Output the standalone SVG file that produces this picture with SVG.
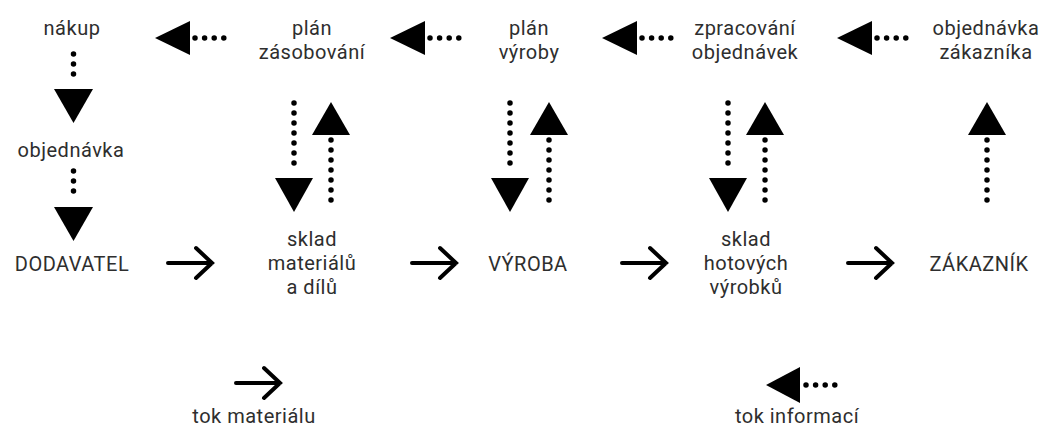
<svg xmlns="http://www.w3.org/2000/svg" width="1046" height="427" viewBox="0 0 1046 427">
<defs>
<style>
text{font-family:Roboto,"Open Sans","Liberation Sans",sans-serif;font-size:20px;letter-spacing:0.5px;fill:#2e2e2e;text-anchor:middle}
.dots{stroke:#000;stroke-width:5.5;stroke-linecap:round;fill:none}
.tri{fill:#000}
.mat{stroke:#000;stroke-width:4;fill:none;stroke-linecap:round;stroke-linejoin:miter}
</style>
<path id="chev" class="mat" d="M0,0 H44 M28,-15 L44,0 L28,15"/>
</defs>
<rect width="1046" height="427" fill="#fff"/>
<g id="n-nakup"><text x="72" y="35">nákup</text></g>
<g id="n-plan-zas"><text x="312" y="35">plán<tspan x="312" dy="24">zásobování</tspan></text></g>
<g id="n-plan-vyr"><text x="529" y="35">plán<tspan x="529" dy="24">výroby</tspan></text></g>
<g id="n-zprac"><text x="745" y="35">zpracování<tspan x="745" dy="24">objednávek</tspan></text></g>
<g id="n-obj-zak"><text x="986" y="35">objednávka<tspan x="986" dy="24">zákazníka</tspan></text></g>
<g id="n-objednavka"><text x="71" y="157">objednávka</text></g>
<g id="n-dodavatel"><text x="72" y="271">DODAVATEL</text></g>
<g id="n-sklad-mat"><text x="312" y="246">sklad<tspan x="312" dy="24">materiálů</tspan><tspan x="312" dy="24">a dílů</tspan></text></g>
<g id="n-vyroba"><text x="528" y="271">VÝROBA</text></g>
<g id="n-sklad-hot"><text x="746" y="246">sklad<tspan x="746" dy="24">hotových</tspan><tspan x="746" dy="24">výrobků</tspan></text></g>
<g id="n-zakaznik"><text x="979" y="271">ZÁKAZNÍK</text></g>
<g id="legend"><text x="254" y="423">tok materiálu</text><text x="797" y="423">tok informací</text></g>
<g id="connectors">
<polygon class="tri" points="155,38 190,21 190,55"/><path class="dots" d="M195,38 H224" stroke-dasharray="0 9.6"/>
<polygon class="tri" points="390,38 425,21 425,55"/><path class="dots" d="M430,38 H459" stroke-dasharray="0 9.6"/>
<polygon class="tri" points="602,38 637,21 637,55"/><path class="dots" d="M642,38 H671" stroke-dasharray="0 9.6"/>
<polygon class="tri" points="837,38 872,21 872,55"/><path class="dots" d="M877,38 H906" stroke-dasharray="0 9.6"/>
<path class="dots" d="M73.5,54 V84" stroke-dasharray="0 10"/><polygon class="tri" points="54,89 93,89 73.5,123"/>
<path class="dots" d="M73.5,171 V201" stroke-dasharray="0 10"/><polygon class="tri" points="54,207 93,207 73.5,241"/>
<path class="dots" d="M294,103 V173" stroke-dasharray="0 10"/><polygon class="tri" points="275,178 313,178 294,212"/>
<polygon class="tri" points="331,102 312,135 350,135"/><path class="dots" d="M331,140 V210" stroke-dasharray="0 10"/>
<path class="dots" d="M510,103 V173" stroke-dasharray="0 10"/><polygon class="tri" points="491,178 529,178 510,212"/>
<polygon class="tri" points="549,102 530,135 568,135"/><path class="dots" d="M549,140 V210" stroke-dasharray="0 10"/>
<path class="dots" d="M728,103 V173" stroke-dasharray="0 10"/><polygon class="tri" points="709,178 747,178 728,212"/>
<polygon class="tri" points="765,102 746,135 784,135"/><path class="dots" d="M765,140 V210" stroke-dasharray="0 10"/>
<polygon class="tri" points="987,102 968,135 1006,135"/><path class="dots" d="M987,140 V210" stroke-dasharray="0 10"/>
<use href="#chev" x="168" y="263"/>
<use href="#chev" x="412" y="263"/>
<use href="#chev" x="622" y="263"/>
<use href="#chev" x="848" y="263"/>
<use href="#chev" x="236" y="383"/>
<polygon class="tri" points="766,385 800,367 800,403"/><path class="dots" d="M806,385 H835" stroke-dasharray="0 9.6"/>
</g>
</svg>
